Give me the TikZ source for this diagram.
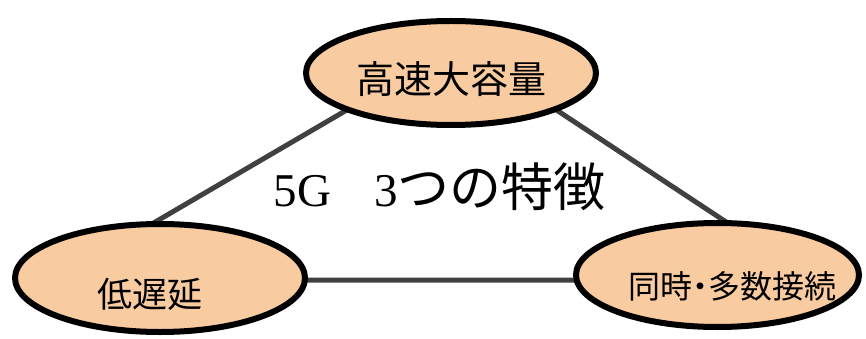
\documentclass[tikz,border=0pt]{standalone}
\usepackage{fontspec}
\setmainfont{Liberation Serif}
\newfontfamily\cjk{Noto Sans CJK JP}
\usetikzlibrary{shapes.geometric}
\definecolor{peach}{HTML}{F8CBA0}
\definecolor{edgegray}{HTML}{404040}
\begin{document}
\begin{tikzpicture}[x=1pt,y=-1pt,
  bub/.style={ellipse, draw=black, line width=6pt, fill=peach, inner sep=0pt},
  lbl/.style={inner sep=0pt, anchor=base},
  link/.style={draw=edgegray, line width=5pt}]
\useasboundingbox[fill=white] (0,0) rectangle (866,339);
% hidden triangle behind the ellipses
\coordinate (apex) at (458,45);
\coordinate (bl) at (56,280);
\coordinate (br) at (814,280);
\draw[link] (bl) -- (apex) -- (br) -- cycle;
% ellipses
\node[bub, minimum width=290pt, minimum height=104pt] (top) at (451,73) {};
\node[bub, minimum width=290pt, minimum height=108pt] (left) at (160,278) {};
\node[bub, minimum width=283pt, minimum height=104pt] (right) at (717.5,275) {};
% labels
\node[lbl, font=\cjk\fontsize{38}{38}\selectfont] (ttop) at (451,94) {高速大容量};
\node[lbl, font=\cjk\fontsize{35}{35}\selectfont] (tleft) at (150,307.5) {低遅延};
\node[lbl, font=\cjk\fontsize{32}{32}\selectfont] (tright) at (732,298) {同時\hspace{-0.25em}・\hspace{-0.25em}多数接続};
% title
\node[inner sep=0pt, anchor=base west] (title) at (273.5,206)
  {\fontsize{47}{47}\selectfont 5G\hspace{43pt}3{\cjk\fontsize{52}{52}\selectfont つの特徴}};
\end{tikzpicture}
\end{document}
